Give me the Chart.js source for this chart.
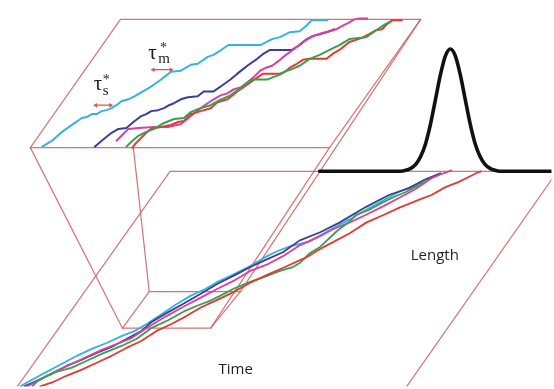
<!DOCTYPE html>
<html>
<head>
<meta charset="utf-8">
<script src="https://cdn.jsdelivr.net/npm/chart.js@4.4.0/dist/chart.umd.min.js"></script>
<style>
  html, body { margin: 0; padding: 0; background: #fff; }
  #wrap { width: 554px; height: 389px; position: relative; }
</style>
</head>
<body>
<div id="wrap"><canvas id="c"></canvas></div>
<script>
// Plane coordinates: x grows right, y grows downward (0..554 by 0..389).

// ---- frame outlines ----
const upperPanel = [[119,17],[422,17],[330,147],[28,147],[119,17]];
const lowerPanel = [[15,389],[169,171],[560,171],[408,389]];
const insetBox   = [[121,330],[210,330],[240,293],[148,293],[121,330]];
const guideA = [[28,147],[121,330]];
const guideB = [[132,147],[148,293]];
const guideC = [[422,17],[240,293]];
const guideD = [[330,147],[210,330]];

// ---- magnified traces (upper panel) ----
const zoomCyan = [[40,146],[50,140],[60,131],[70,124],[80,117],[85,116],[90,113],[95,113],[100,110],[105,109],[110,107],[115,104],[120,100],[127,98],[133,95],[140,91],[147,87],[153,83],[160,78],[165,74],[170,70],[180,69],[190,63],[197,62],[207,55],[213,53],[222,47],[228,43],[260,43],[266,40],[272,37],[280,35],[290,30],[300,29],[306,24],[312,18],[328,18]];
const zoomNavy = [[93,146],[100,140],[110,132],[117,128],[125,127],[132,121],[140,115],[145,113],[150,110],[157,109],[163,107],[168,104],[173,102],[180,98],[187,96],[197,95],[203,90],[213,90],[223,83],[230,78],[237,72],[247,64],[257,57],[263,52],[270,48],[292,48],[300,43],[307,37],[313,34],[320,32],[327,30],[335,27]];
const zoomMagenta = [[115,140],[121,134],[127,128],[137,127],[153,126],[167,126],[180,123],[185,119],[190,115],[200,107],[207,102],[213,98],[220,94],[227,92],[233,88],[240,86],[247,81],[253,76],[260,69],[266,66],[272,64],[280,58],[286,53],[293,48],[303,40],[313,34],[322,31],[330,29],[337,27],[344,23],[350,20],[355,17],[360,16],[368,16]];
const zoomGreen = [[125,146],[130,141],[137,135],[145,131],[153,128],[158,125],[163,122],[173,118],[183,117],[190,111],[197,108],[203,106],[210,104],[217,100],[223,97],[230,94],[240,87],[247,81],[253,78],[267,78],[272,76],[280,73],[287,69],[293,67],[300,64],[310,57],[320,53],[330,48],[340,43],[350,37],[367,35],[373,31],[380,26],[386,22],[390,20]];
const zoomRed = [[131,147],[135,142],[140,137],[145,132],[150,128],[160,126],[170,124],[177,121],[183,120],[190,113],[200,110],[210,107],[217,101],[227,98],[232,94],[237,90],[243,86],[250,81],[257,76],[263,72],[280,72],[285,70],[290,66],[297,62],[303,58],[310,57],[327,57],[333,52],[340,48],[345,44],[350,40],[356,38],[362,36],[370,32],[377,28],[383,27],[388,22],[393,18],[403,18]];

// ---- full traces (lower panel) ----
const fullCyan = [[18,389],[30,382],[45,374],[60,366],[75,358],[90,351],[105,345],[120,338],[133,333],[145,326],[160,316],[175,306],[190,297],[205,290],[217,283],[230,277],[250,267],[265,258],[277,252],[290,247],[310,242],[333,229],[350,220],[367,210],[385,200],[400,192],[415,186],[427,180],[433,178]];
const fullNavy = [[22,389],[35,383],[50,376],[65,368],[80,362],[95,355],[110,349],[125,341],[140,333],[150,324],[165,315],[183,305],[200,295],[217,285],[235,276],[250,268],[265,261],[283,253],[300,241],[320,233],[340,223],[367,207],[390,195],[410,188],[425,180],[437,175],[442,173]];
const fullMagenta = [[25,389],[40,381],[55,373],[70,366],[85,359],[100,352],[115,346],[130,340],[150,327],[165,318],[183,308],[200,299],[217,290],[235,281],[250,272],[268,265],[283,257],[300,246],[320,237],[333,230],[350,223],[367,215],[385,206],[400,198],[417,189],[433,178],[445,173],[453,170]];
const fullGreen = [[30,389],[35,384],[45,378],[55,374],[70,370],[85,363],[100,356],[120,348],[135,341],[150,330],[167,322],[183,313],[197,307],[210,302],[222,296],[233,290],[250,283],[267,277],[280,272],[293,268],[300,264],[310,254],[320,248],[337,232],[350,222],[357,215],[370,210],[383,203],[395,197],[407,192],[420,185],[427,180]];
const fullRed = [[38,389],[50,385],[65,378],[80,372],[95,365],[110,358],[125,350],[140,343],[155,333],[170,326],[185,318],[200,309],[215,302],[230,295],[250,284],[267,276],[285,268],[307,258],[320,250],[333,243],[350,234],[367,223],[385,215],[400,208],[420,200],[433,195],[447,187],[460,182],[470,177],[480,172],[483,171]];

// ---- length distribution ----
const distX = [320,380,402,407,412,417,422,427,432,437,442,447,452,457,462,467,472,477,482,487,492,497,502,530,554];
const distY = [171,171,171,170,168,164,156,143,123,98,73,54,47,54,73,98,123,143,156,164,168,170,171,171,171];

// ---- interval markers ----
const markM = [[152,68],[170,68]];
const markS = [[94,104],[109,104]];

const OUTLINE = 'rgba(206,92,92,0.85)';
const COLORS = { cyan:'#35b3e0', navy:'#3b3f94', magenta:'#df3f9c', green:'#35a052', red:'#e23a33' };

const pts = a => a.map(([x, y]) => ({ x, y }));

function outline(data) {
  return { data: pts(data), borderColor: OUTLINE, borderWidth: 1.2, order: 5 };
}
function trace(data, color, w) {
  return { data: pts(data), borderColor: color, borderWidth: w, order: 3 };
}
function marker(data) {
  return {
    data: pts(data), borderColor: '#e05050', borderWidth: 1.2, order: 2,
    pointStyle: 'triangle', pointRadius: 2.6, pointRotation: [-90, 90],
    pointBackgroundColor: '#e05050', pointBorderColor: '#e05050', pointBorderWidth: 0
  };
}

const datasets = [
  outline(upperPanel), outline(lowerPanel), outline(insetBox),
  outline(guideA), outline(guideB), outline(guideC), outline(guideD),
  trace(zoomGreen, COLORS.green, 2), trace(zoomRed, COLORS.red, 2),
  trace(zoomMagenta, COLORS.magenta, 2), trace(zoomNavy, COLORS.navy, 2), trace(zoomCyan, COLORS.cyan, 2),
  trace(fullRed, COLORS.red, 1.8), trace(fullGreen, COLORS.green, 1.8),
  trace(fullMagenta, COLORS.magenta, 1.8), trace(fullNavy, COLORS.navy, 1.8), trace(fullCyan, COLORS.cyan, 1.8),
  { data: distX.map((x, i) => ({ x, y: distY[i] })), borderColor: '#111', borderWidth: 3.6,
    cubicInterpolationMode: 'monotone', order: 1 },
  marker(markM), marker(markS)
];

// Text annotations placed in plane coordinates
const captions = [
  { text: 'Time', x: 218, y: 376 },
  { text: 'Length', x: 412, y: 261 }
];
const taus = [
  { x: 147, y: 57, sub: 'm', subX: 157, subY: 61, starX: 159, starY: 50 },
  { x: 92,  y: 89, sub: 's', subX: 101, subY: 94, starX: 101, starY: 83 }
];

const annotate = {
  id: 'annotate',
  afterDatasetsDraw(chart) {
    const { ctx, scales: { x, y } } = chart;
    ctx.save();
    ctx.fillStyle = '#1e1e1e';
    ctx.textBaseline = 'alphabetic';
    ctx.textAlign = 'left';
    ctx.font = '15px "Open Sans", "Liberation Sans", sans-serif';
    captions.forEach(c => ctx.fillText(c.text, x.getPixelForValue(c.x), y.getPixelForValue(c.y)));
    taus.forEach(t => {
      ctx.font = '21px "Liberation Serif", "DejaVu Serif", serif';
      ctx.fillText('\u03C4', x.getPixelForValue(t.x), y.getPixelForValue(t.y));
      ctx.font = '15px "Liberation Serif", "DejaVu Serif", serif';
      ctx.fillText(t.sub, x.getPixelForValue(t.subX), y.getPixelForValue(t.subY));
      ctx.font = '14px "Liberation Serif", "DejaVu Serif", serif';
      ctx.fillText('*', x.getPixelForValue(t.starX), y.getPixelForValue(t.starY));
    });
    ctx.restore();
  }
};

new Chart(document.getElementById('c'), {
  type: 'scatter',
  data: { datasets },
  options: {
    responsive: true,
    maintainAspectRatio: false,
    animation: false,
    layout: { padding: 0 },
    elements: {
      line: { tension: 0, fill: false, borderCapStyle: 'round', borderJoinStyle: 'round' },
      point: { radius: 0, hoverRadius: 0 }
    },
    datasets: { scatter: { showLine: true } },
    scales: {
      x: { type: 'linear', min: 0, max: 554, display: false },
      y: { type: 'linear', min: 0, max: 389, reverse: true, display: false }
    },
    plugins: { legend: { display: false }, tooltip: { enabled: false } }
  },
  plugins: [annotate]
});
</script>
</body>
</html>
